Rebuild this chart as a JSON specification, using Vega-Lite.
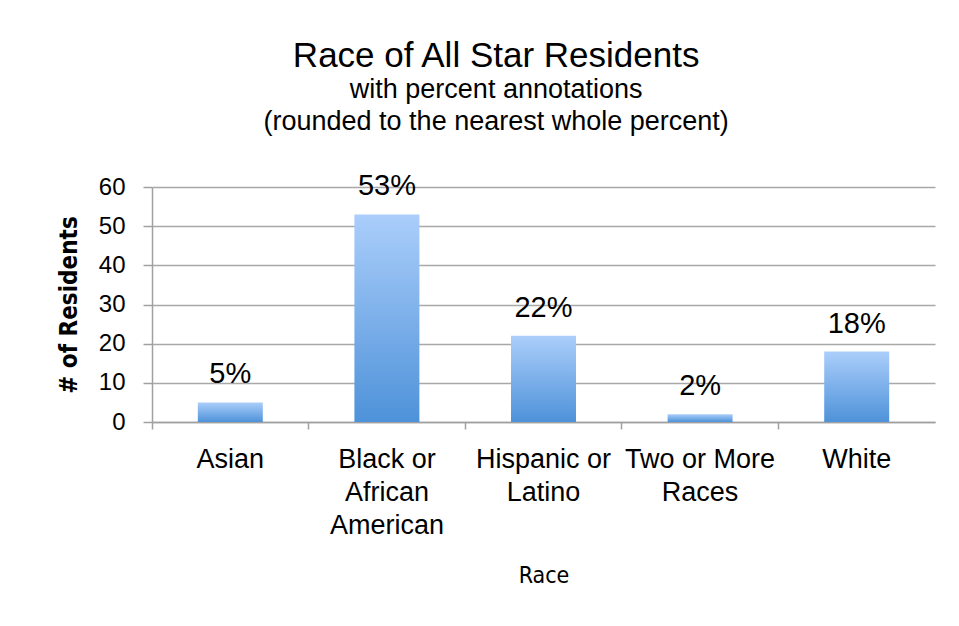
{
  "$schema": "https://vega.github.io/schema/vega-lite/v6.json",
  "width": 783,
  "height": 235,
  "padding": {"left": 57, "top": 39, "right": 20, "bottom": 10},
  "background": "white",
  "title": {
    "text": "Race of All Star Residents",
    "subtitle": ["with percent annotations", "(rounded to the nearest whole percent)"],
    "anchor": "middle",
    "frame": "bounds",
    "font": "Liberation Sans",
    "fontSize": 35,
    "fontWeight": "normal",
    "color": "black",
    "subtitleFont": "Liberation Sans",
    "subtitleFontSize": 27,
    "subtitleColor": "black",
    "subtitleLineHeight": 32,
    "subtitlePadding": 3,
    "offset": 37
  },
  "data": {
    "values": [
      {"race": "Asian", "count": 5, "label": "5%"},
      {"race": "Black or African American", "count": 53, "label": "53%"},
      {"race": "Hispanic or Latino", "count": 22, "label": "22%"},
      {"race": "Two or More Races", "count": 2, "label": "2%"},
      {"race": "White", "count": 18, "label": "18%"}
    ]
  },
  "config": {
    "view": {"stroke": null},
    "axis": {
      "labelFont": "Liberation Sans",
      "labelColor": "black",
      "titleFont": "Liberation Sans",
      "titleColor": "black",
      "domainColor": "#a0a0a0",
      "domainWidth": 1.5,
      "tickColor": "#a0a0a0",
      "tickWidth": 1.5,
      "gridColor": "#a8a8a8",
      "gridWidth": 1.5
    }
  },
  "encoding": {
    "x": {
      "field": "race",
      "type": "nominal",
      "sort": null,
      "title": "Race",
      "scale": {"paddingInner": 0, "paddingOuter": 0},
      "axis": {
        "labelAngle": 0,
        "labelFontSize": 27,
        "bandPosition": 0,
        "tickSize": 7,
        "labelPadding": 17,
        "labelLineHeight": 33,
        "labelBaseline": "top",
        "labelExpr": "datum.label == 'Black or African American' ? ['Black or', 'African', 'American'] : datum.label == 'Hispanic or Latino' ? ['Hispanic or', 'Latino'] : datum.label == 'Two or More Races' ? ['Two or More', 'Races'] : datum.label",
        "titleFont": "DejaVu Sans Condensed, Liberation Sans",
        "titleFontSize": 23,
        "titleFontWeight": "normal",
        "titlePadding": 26
      }
    },
    "y": {
      "field": "count",
      "type": "quantitative",
      "title": "# of Residents",
      "scale": {"domain": [0, 60]},
      "axis": {
        "values": [0, 10, 20, 30, 40, 50, 60],
        "labelFontSize": 24,
        "tickSize": 9,
        "labelPadding": 18,
        "titleFont": "DejaVu Sans Condensed, Liberation Sans",
        "titleFontSize": 24,
        "titleFontWeight": "bold",
        "titlePadding": 17
      }
    }
  },
  "layer": [
    {
      "mark": {
        "type": "bar",
        "width": {"band": 0.415},
        "color": {
          "gradient": "linear",
          "x1": 0, "y1": 0, "x2": 0, "y2": 1,
          "stops": [
            {"offset": 0, "color": "#abcefb"},
            {"offset": 1, "color": "#4e92d9"}
          ]
        }
      }
    },
    {
      "mark": {
        "type": "text",
        "baseline": "bottom",
        "dy": -13,
        "font": "Liberation Sans",
        "fontSize": 29,
        "color": "black"
      },
      "encoding": {"text": {"field": "label"}}
    }
  ]
}
